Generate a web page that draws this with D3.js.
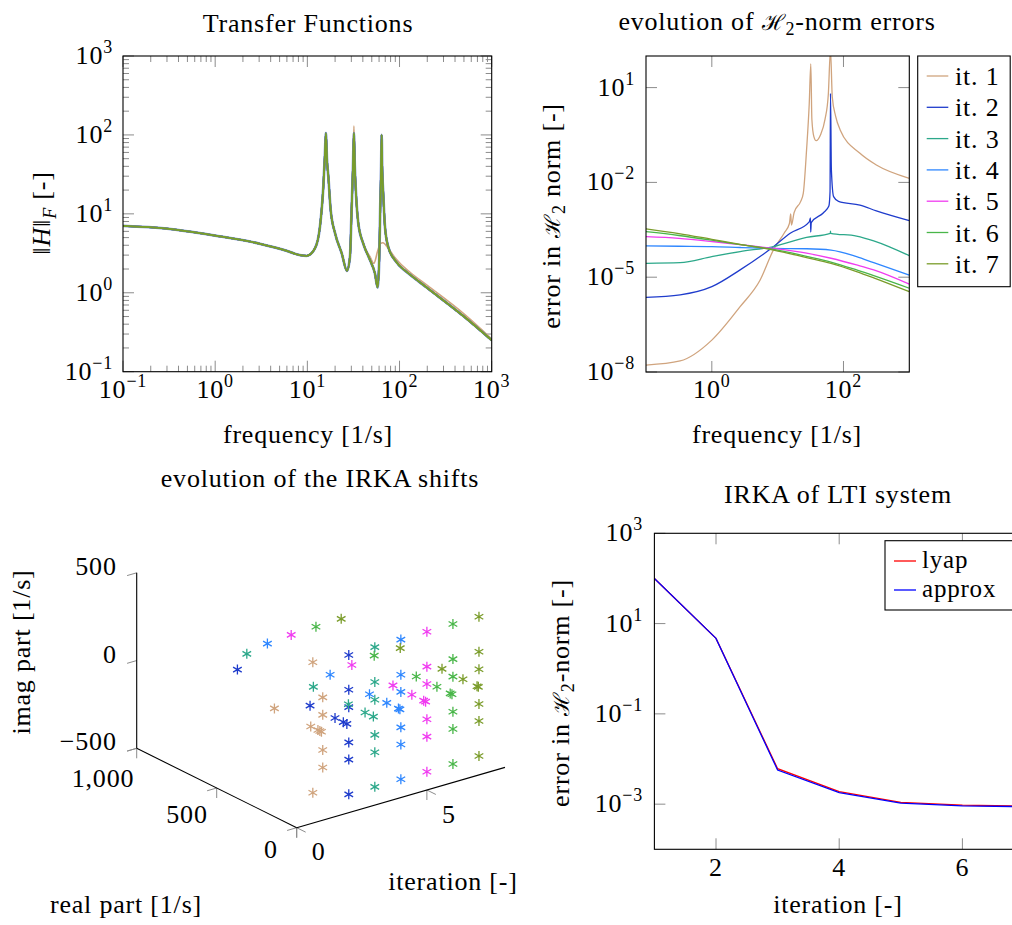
<!DOCTYPE html>
<html>
<head>
<meta charset="utf-8">
<script src="https://cdn.jsdelivr.net/npm/d3@7"></script>
<style>
  body { margin: 0; background: #fff; }
  text { font-family: "Liberation Serif", serif; fill: #000; letter-spacing: 0.8px; }
</style>
</head>
<body>
<div class="chart"></div>
<script>
// ---- panel 1: transfer functions (frequency, |H|_F)
const fullFreq = [0.1,0.3,1,3,6,8.3,9.85,12.1,13.7,14.9,15.5,15.9,16.3,16.9,17.9,20,23.6,26.9,29,30.2,31.3,32,32.7,33.7,35.7,40.4,47.8,54.1,57.8,60.2,61.7,63.2,64,64.8,66.6,69.5,75.5,89,100,130,200,500,1000];
const fullMag = [7.06,6.5,5.3,4.2,3.4,3.0,2.94,3.66,6.86,22,55,105,50,29.5,11.2,5.66,3.16,1.9,2.86,11.2,40,105,40,18.2,7.6,4.2,2.6,1.76,1.17,2.6,11.2,40,100,40,18,6.9,3.8,2.6,2.2,1.7,1.15,0.5,0.25];
const it1Freq = [0.1,0.3,1,3,6,8.3,9.85,12.1,13.7,14.9,15.5,15.9,16.3,16.9,17.9,20,23.6,26.9,29,30.2,31.3,32,32.7,33.7,35.7,40.4,47.8,52.7,58,62,66,75,89,100,130,200,500,1000];
const it1Mag = [7.06,6.5,5.3,4.2,3.4,3.0,2.94,3.66,6.86,22,55,105,50,29.5,11.2,5.66,3.16,1.9,2.86,11.2,45,130,45,18.2,7.6,4.2,2.86,2.36,3.4,4.2,4.3,3.7,2.8,2.4,1.82,1.24,0.54,0.26];

// ---- panel 2: H2 error per iteration
const err1Freq = [0.1,0.33,1,2.69,5.42,8.71,12.6,15.1,15.8,16.2,17.8,22.4,24.5,27.5,30.2,31.9,33.1,35.5,38.5,44.7,52.5,58.9,63.5,67.6,75.9,89.1,178,316,1000];
const err1 = [1.66e-8,2.24e-8,1.02e-7,1.17e-6,8.13e-6,7.59e-5,2.51e-4,5.01e-4,1e-3,4.47e-4,1.12e-3,2.51e-3,4.47e-3,0.107,3.16,56.2,1,0.282,0.209,0.316,1,6.31,158,5.01,1.26,0.457,0.0832,0.0355,0.0135];
const err2Freq = [0.1,0.33,1,2.69,8.71,15.5,30.2,31.5,31.8,32.4,49.7,60,62.5,63.5,65.5,70.8,84.1,178,316,1000];
const err2 = [2.29e-6,2.75e-6,5.01e-6,1.7e-5,9.33e-5,2.45e-4,5.62e-4,7.59e-4,2.69e-4,5.37e-4,1.1e-3,1.78e-3,5.01e-3,6.61,0.0251,3.55e-3,2.51e-3,1.91e-3,1.26e-3,6.17e-4];
const err3Freq = [0.1,0.33,1,2.69,8.71,27.5,63.1,63.5,64,158,288,1000];
const err3 = [2.75e-5,2.88e-5,4.47e-5,6.46e-5,9.33e-5,1.82e-4,2.45e-4,2.88e-4,2.45e-4,2e-4,1.41e-4,4.79e-5];
const errFreq = [0.1,0.316,1,2.69,8.71,27.5,64.6,158,288,1000];
const err4 = [9.77e-5,9.55e-5,9.33e-5,8.71e-5,8.13e-5,7.94e-5,7.24e-5,4.47e-5,2.88e-5,1.17e-5];
const err5 = [1.91e-4,1.7e-4,1.35e-4,1.07e-4,8.13e-5,5.75e-5,3.98e-5,2.45e-5,1.7e-5,6.03e-6];
const err6 = [2.75e-4,2.09e-4,1.48e-4,1.07e-4,7.59e-5,4.57e-5,3.02e-5,1.7e-5,1.12e-5,4.47e-6];
const err7 = [3.39e-4,2.4e-4,1.58e-4,1.1e-4,7.24e-5,4.17e-5,2.75e-5,1.51e-5,9.55e-6,3.47e-6];
const iterNames = ["it. 1","it. 2","it. 3","it. 4","it. 5","it. 6","it. 7"];
const iterColors = ["#d0a47e","#1f3ccc","#2ca88a","#2f87ff","#f03cf0","#49b649","#7a9c2a"];

// ---- panel 3: IRKA shifts, [real, imag] per iteration
const shifts1 = [[0,200],[0,-200],[0,100],[0,-100],[62,372],[62,-372],[302,0],[75,0],[30,0],[18,0],[8,0]];
const shifts2 = [[696,0],[0,398],[0,-396],[0,200],[0,-198],[0,101],[0,-100],[242,0],[86,0],[34,0],[12,0]];
const shifts3 = [[800,0],[384,0],[0,400],[0,-396],[0,201],[0,-199],[0,100],[0,-100],[165,0],[61,0],[9,0]];
const shifts4 = [[834,0],[442,0],[0,400],[0,-396],[0,200],[0,-198],[0,102],[0,-100],[196,0],[88,0],[15,0],[6,0]];
const shifts5 = [[848,0],[469,0],[0,402],[0,-396],[0,203],[0,-196],[0,104],[0,-97],[212,0],[94,0],[20,0],[8,0]];
const shifts6 = [[856,0],[492,0],[0,403],[0,-395],[0,203],[0,-195],[0,103],[0,-97],[229,0],[100,0],[17,0],[6,0]];
const shifts7 = [[861,0],[492,0],[0,401],[0,-392],[0,202],[0,-193],[0,102],[0,-96],[231,0],[100,0],[12,0],[4,0]];
const shiftIters = [1,2,3,4,5,6,7];

// ---- panel 4: IRKA convergence
const iterations = [1,2,3,4,5,6,7];
const lyapErr = [100,4.7,0.0061,0.0019,0.0011,0.00095,0.0009];
const approxErr = [100,4.7,0.0057,0.0018,0.00105,0.00092,0.00088];

const svg = d3.select(".chart").append("svg")
  .attr("width", 1012).attr("height", 925)
  .attr("font-size", 26);

const tickCol = "#8c8c8c";

function pow10(g, e, x, y, anchor) {
  const t = g.append("text").attr("x", x).attr("y", y).attr("text-anchor", anchor);
  t.append("tspan").text("10");
  t.append("tspan").attr("dy", -11).attr("font-size", 18).text(e < 0 ? "\u2212" + (-e) : e);
  return t;
}
function isDecade(v) {
  const l = Math.log10(v);
  return Math.abs(l - Math.round(l)) < 1e-9;
}
function frame(g, x0, y0, x1, y1) {
  g.append("rect").attr("x", x0).attr("y", y0).attr("width", x1 - x0).attr("height", y1 - y0)
    .attr("fill", "none").attr("stroke", "#000").attr("stroke-width", 1.1);
}
function xTicks(g, x, vals, yb, yt, lenFn) {
  vals.forEach(v => {
    const px = x(v), len = lenFn(v);
    g.append("line").attr("x1", px).attr("x2", px).attr("y1", yb).attr("y2", yb - len).attr("stroke", tickCol);
    g.append("line").attr("x1", px).attr("x2", px).attr("y1", yt).attr("y2", yt + len).attr("stroke", tickCol);
  });
}
function yTicks(g, y, vals, xl, xr, lenFn) {
  vals.forEach(v => {
    const py = y(v), len = lenFn(v);
    g.append("line").attr("y1", py).attr("y2", py).attr("x1", xl).attr("x2", xl + len).attr("stroke", tickCol);
    g.append("line").attr("y1", py).attr("y2", py).attr("x1", xr).attr("x2", xr - len).attr("stroke", tickCol);
  });
}
function clip(id, x0, y0, x1, y1) {
  svg.append("clipPath").attr("id", id).append("rect")
    .attr("x", x0).attr("y", y0).attr("width", x1 - x0).attr("height", y1 - y0);
}

// ================= panel 1
{
  const L = 123, R = 491.7, T = 56, B = 371.7;
  const x = d3.scaleLog().domain([0.1, 1000]).range([L, R]);
  const y = d3.scaleLog().domain([0.1, 1000]).range([B, T]);
  const g = svg.append("g");
  clip("c1", L, T, R, B);
  const lenFn = v => isDecade(v) ? 11 : 6;
  xTicks(g, x, x.ticks(), B, T, lenFn);
  yTicks(g, y, y.ticks(), L, R, lenFn);

  const line = d3.line().x(d => x(d[0])).y(d => y(d[1])).curve(d3.curveMonotoneX);
  const full = fullFreq.map((f, i) => [f, fullMag[i]]);
  const it1 = it1Freq.map((f, i) => [f, it1Mag[i]]);
  const lg = g.append("g").attr("clip-path", "url(#c1)").attr("fill", "none");
  lg.append("path").attr("d", line(full)).attr("stroke", "#5a78c8").attr("stroke-opacity", 0.7).attr("stroke-width", 2.8);
  lg.append("path").attr("d", line(it1)).attr("stroke", iterColors[0]).attr("stroke-width", 1.6);
  iterColors.slice(1).forEach(c => {
    lg.append("path").attr("d", line(full)).attr("stroke", c).attr("stroke-width", 1.8);
  });
  frame(g, L, T, R, B);

  [-1, 0, 1, 2, 3].forEach(e => pow10(g, e, x(Math.pow(10, e)), 398, "middle"));
  [-1, 0, 1, 2, 3].forEach(e => pow10(g, e, 113, y(Math.pow(10, e)) + 8, "end"));

  g.append("text").attr("x", 308).attr("y", 32).attr("text-anchor", "middle").text("Transfer Functions");
  g.append("text").attr("x", 308).attr("y", 443).attr("text-anchor", "middle").text("frequency [1/s]");
  const yl = g.append("text").attr("transform", "translate(50,213) rotate(-90)").attr("text-anchor", "middle");
  yl.append("tspan").text("\u2016");
  yl.append("tspan").attr("font-style", "italic").text("H");
  yl.append("tspan").text("\u2016");
  yl.append("tspan").attr("font-size", 18).attr("font-style", "italic").attr("dy", 6).text("F");
  yl.append("tspan").attr("dy", -6).text(" [-]");
}

// ================= panel 2
{
  const L = 646, R = 909.3, T = 56, B = 372;
  const x = d3.scaleLog().domain([0.1, 1000]).range([L, R]);
  const y = d3.scaleLog().domain([1e-8, 100]).range([B, T]);
  const g = svg.append("g");
  clip("c2", L, T, R, B);
  xTicks(g, x, [1, 100], B, T, () => 11);
  yTicks(g, y, [10, 1e-2, 1e-5, 1e-8], L, R, () => 11);

  const line = d3.line().x(d => x(d[0])).y(d => y(d[1])).curve(d3.curveMonotoneX);
  const series = [
    err1Freq.map((f, i) => [f, err1[i]]),
    err2Freq.map((f, i) => [f, err2[i]]),
    err3Freq.map((f, i) => [f, err3[i]]),
    errFreq.map((f, i) => [f, err4[i]]),
    errFreq.map((f, i) => [f, err5[i]]),
    errFreq.map((f, i) => [f, err6[i]]),
    errFreq.map((f, i) => [f, err7[i]])
  ];
  const lg = g.append("g").attr("clip-path", "url(#c2)").attr("fill", "none");
  series.forEach((s, i) => {
    lg.append("path").attr("d", line(s)).attr("stroke", iterColors[i]).attr("stroke-width", 1.3);
  });
  frame(g, L, T, R, B);

  pow10(g, 0, x(1), 398, "middle");
  pow10(g, 2, x(100), 398, "middle");
  [1, -2, -5, -8].forEach(e => pow10(g, e, 635, y(Math.pow(10, e)) + 8, "end"));

  const t = g.append("text").attr("x", 777).attr("y", 30).attr("text-anchor", "middle");
  t.append("tspan").text("evolution of ");
  t.append("tspan").attr("font-family", "DejaVu Serif").attr("font-size", 22).text("\u210B");
  t.append("tspan").attr("font-size", 18).attr("dy", 5).text("2");
  t.append("tspan").attr("dy", -5).text("-norm errors");
  g.append("text").attr("x", 777).attr("y", 443).attr("text-anchor", "middle").text("frequency [1/s]");
  const yl = g.append("text").attr("transform", "translate(560,216) rotate(-90)").attr("text-anchor", "middle");
  yl.append("tspan").text("error in ");
  yl.append("tspan").attr("font-family", "DejaVu Serif").attr("font-size", 22).text("\u210B");
  yl.append("tspan").attr("font-size", 18).attr("dy", 5).text("2");
  yl.append("tspan").attr("dy", -5).text(" norm [-]");

  // legend
  const lgd = g.append("g");
  lgd.append("rect").attr("x", 917.7).attr("y", 56).attr("width", 92.5).attr("height", 230.7)
    .attr("fill", "#fff").attr("stroke", "#000").attr("stroke-width", 1.1);
  iterNames.forEach((n, i) => {
    const yy = 76 + i * 31.3;
    lgd.append("line").attr("x1", 926.7).attr("x2", 948.3).attr("y1", yy).attr("y2", yy)
      .attr("stroke", iterColors[i]).attr("stroke-width", 1.3);
    lgd.append("text").attr("x", 955).attr("y", yy + 9).text(n);
  });
}

// ================= panel 3 (3D scatter, projected by hand)
{
  const g = svg.append("g");
  const iterScale = d3.scaleLinear().domain([0, 8]).range([0, 1]);
  const realScale = d3.scaleLinear().domain([0, 1000]).range([0, 1]);
  const imagScale = d3.scaleLinear().domain([-500, 500]).range([0, 1]);
  const O = [296.7, 827.7], EI = [208.3, -60.3], ER = [-160, -79.4], EZ = [0, -175.5];
  const proj = (it, re, im) => {
    const a = iterScale(it), b = realScale(re), c = imagScale(im);
    return [O[0] + a * EI[0] + b * ER[0] + c * EZ[0], O[1] + a * EI[1] + b * ER[1] + c * EZ[1]];
  };
  const unit = v => { const n = Math.hypot(v[0], v[1]); return [v[0] / n, v[1] / n]; };
  const uI = unit(EI), uR = unit(ER);
  const seg = (p, d, len) => g.append("line").attr("x1", p[0]).attr("y1", p[1])
    .attr("x2", p[0] + d[0] * len).attr("y2", p[1] + d[1] * len).attr("stroke", tickCol);

  // ticks
  [-500, 0, 500].forEach(v => seg(proj(0, 1000, v), [-uI[0], -uI[1]], 10));
  [0, 500, 1000].forEach(v => { const p = proj(0, v, -500); seg(p, [-uI[0], -uI[1]], 10); seg(p, [0, 1], 10); });
  [0, 5].forEach(v => { const p = proj(v, 0, -500); seg(p, [0, 1], 10); seg(p, [-uR[0], -uR[1]], 10); });

  // axes
  const ax = (a, b) => g.append("line").attr("x1", a[0]).attr("y1", a[1]).attr("x2", b[0]).attr("y2", b[1])
    .attr("stroke", "#000").attr("stroke-width", 1.1);
  ax(proj(0, 0, -500), proj(0, 1000, -500));
  ax(proj(0, 1000, -500), proj(0, 1000, 500));
  ax(proj(0, 0, -500), proj(8, 0, -500));

  // tick labels
  [-500, 0, 500].forEach(v => {
    const p = proj(0, 1000, v);
    g.append("text").attr("x", p[0] - 20).attr("y", p[1] + 2).attr("text-anchor", "end")
      .text(v < 0 ? "\u2212" + (-v) : v);
  });
  [0, 500, 1000].forEach(v => {
    const p = proj(0, v, -500);
    const f = realScale(v);
    g.append("text").attr("x", p[0] - 25.7 - 8 * f).attr("y", p[1] + 30.3 + 8.4 * f)
      .attr("text-anchor", "middle").text(d3.format(",")(v));
  });
  [0, 5].forEach(v => {
    const p = proj(v, 0, -500);
    g.append("text").attr("x", p[0] + 22).attr("y", p[1] + 32.5).attr("text-anchor", "middle").text(v);
  });

  // markers
  const r = 5, cx = r * Math.cos(Math.PI / 6), sy = r * Math.sin(Math.PI / 6);
  const star = `M0,${-r}L0,${r}M${-cx},${-sy}L${cx},${sy}M${-cx},${sy}L${cx},${-sy}`;
  const allShifts = [shifts1, shifts2, shifts3, shifts4, shifts5, shifts6, shifts7];
  allShifts.forEach((arr, k) => {
    const it = shiftIters[k];
    g.selectAll(null).data(arr).enter().append("path")
      .attr("d", star)
      .attr("transform", d => { const p = proj(it, d[0], d[1]); return `translate(${p[0]},${p[1]})`; })
      .attr("fill", "none").attr("stroke", iterColors[k]).attr("stroke-width", 1.3);
  });

  g.append("text").attr("x", 320).attr("y", 487).attr("text-anchor", "middle").text("evolution of the IRKA shifts");
  g.append("text").attr("transform", "translate(30,652) rotate(-90)").attr("text-anchor", "middle").text("imag part [1/s]");
  g.append("text").attr("x", 126).attr("y", 913).attr("text-anchor", "middle").text("real part [1/s]");
  g.append("text").attr("x", 453).attr("y", 890).attr("text-anchor", "middle").text("iteration [-]");
}

// ================= panel 4
{
  const L = 654.4, R = 1024, T = 533.3, B = 849.3;
  const x = d3.scaleLinear().domain([1, 7]).range([L, R]);
  const y = d3.scaleLog().domain([1e-4, 1e3]).range([B, T]);
  const g = svg.append("g");
  clip("c4", L, T, R, B);
  xTicks(g, x, [2, 4, 6], B, T, () => 11);
  yTicks(g, y, [1e3, 10, 0.1, 1e-3], L, R, () => 11);

  const line = d3.line().x(d => x(d[0])).y(d => y(d[1]));
  const lg = g.append("g").attr("clip-path", "url(#c4)").attr("fill", "none");
  lg.append("path").attr("d", line(iterations.map((t, i) => [t, lyapErr[i]]))).attr("stroke", "#ff0000").attr("stroke-width", 1.3);
  lg.append("path").attr("d", line(iterations.map((t, i) => [t, approxErr[i]]))).attr("stroke", "#0000ff").attr("stroke-width", 1.3);
  frame(g, L, T, R, B);

  [2, 4, 6].forEach(v => g.append("text").attr("x", x(v)).attr("y", 876).attr("text-anchor", "middle").text(v));
  [3, 1, -1, -3].forEach(e => pow10(g, e, 643, y(Math.pow(10, e)) + 8, "end"));

  g.append("text").attr("x", 838).attr("y", 503).attr("text-anchor", "middle").text("IRKA of LTI system");
  g.append("text").attr("x", 838).attr("y", 913).attr("text-anchor", "middle").text("iteration [-]");
  const yl = g.append("text").attr("transform", "translate(569,693) rotate(-90)").attr("text-anchor", "middle");
  yl.append("tspan").text("error in ");
  yl.append("tspan").attr("font-family", "DejaVu Serif").attr("font-size", 22).text("\u210B");
  yl.append("tspan").attr("font-size", 18).attr("dy", 5).text("2");
  yl.append("tspan").attr("dy", -5).text("-norm [-]");

  const lgd = g.append("g");
  lgd.append("rect").attr("x", 885).attr("y", 540.7).attr("width", 140).attr("height", 69.3)
    .attr("fill", "#fff").attr("stroke", "#000").attr("stroke-width", 1.1);
  [["lyap", "#ff0000", 561], ["approx", "#0000ff", 590]].forEach(([n, c, yy]) => {
    lgd.append("line").attr("x1", 894).attr("x2", 916).attr("y1", yy).attr("y2", yy).attr("stroke", c).attr("stroke-width", 1.3);
    lgd.append("text").attr("x", 922).attr("y", yy + 7).attr("font-size", 25).text(n);
  });
}
</script>
</body>
</html>
